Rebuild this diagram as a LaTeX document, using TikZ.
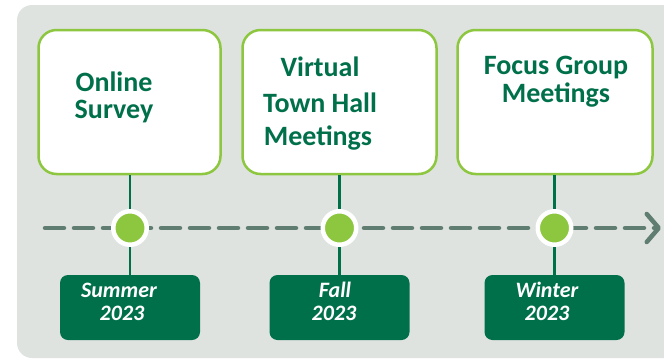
\documentclass[tikz,border=0pt]{standalone}
\usepackage{fontspec}
\setmainfont{Carlito}
\usetikzlibrary{arrows.meta}
\definecolor{bggray}{RGB}{222,227,224}
\definecolor{dkgreen}{RGB}{0,112,74}
\definecolor{ltgreen}{RGB}{141,198,63}
\definecolor{dashgray}{RGB}{95,125,112}
\tikzset{
  topbox/.style={draw=ltgreen, line width=2.5pt, fill=white, rounded corners=18pt,
    minimum height=144pt, inner sep=0pt},
  datebox/.style={fill=dkgreen, rounded corners=8pt, minimum width=140pt,
    minimum height=65pt, inner sep=0pt},
  toptext/.style={anchor=base, text=dkgreen, inner sep=0pt,
    font=\fontsize{28}{30}\selectfont\bfseries},
  datetext/.style={anchor=base, text=white, inner sep=0pt,
    font=\fontsize{22}{24}\selectfont\bfseries\itshape},
  dot/.style={circle, fill=ltgreen, draw=white, line width=4.5pt,
    minimum size=33.5pt, inner sep=0pt},
  stem/.style={draw=dkgreen, line width=2.2pt},
  dashline/.style={draw=dashgray, line width=4.5pt, line cap=round,
    dash pattern=on 19pt off 10pt},
}
\begin{document}
\begin{tikzpicture}[x=1pt,y=-1pt]
\useasboundingbox (0,0) rectangle (664,359);
\clip (0,0) rectangle (664,359);
\fill[bggray, rounded corners=15pt] (17,5) rectangle (720,358);

% timeline
\coordinate (ls) at (45,228);
\coordinate (le) at (661,228);
\draw[dashline, -{Straight Barb[length=12pt,width=28pt,line cap=round,line join=round]}] (ls) -- (le);

% boxes
\node[topbox, minimum width=182pt] (b1) at (129.5,102) {};
\node[topbox, minimum width=194pt] (b2) at (339.5,102) {};
\node[topbox, minimum width=195pt] (b3) at (555,102) {};

\node[datebox] (d1) at (130,307.5) {};
\node[datebox] (d2) at (339.5,307.5) {};
\node[datebox] (d3) at (554.5,307.5) {};

\node[dot] (c1) at (130,228) {};
\node[dot] (c2) at (339.5,228) {};
\node[dot] (c3) at (554.5,228) {};

\draw[stem] (b1.south -| c1) -- (c1);
\draw[stem] (c1) -- (d1.north);
\draw[stem] (b2.south) -- (c2);
\draw[stem] (c2) -- (d2.north);
\draw[stem] (b3.south -| c3) -- (c3);
\draw[stem] (c3) -- (d3.north);

% top texts
\node[toptext] (t1a) at (114,91) {Online};
\node[toptext] (t1b) at (114,118) {Survey};
\node[toptext] (t2a) at (320,76) {Virtual};
\node[toptext] (t2b) at (320,112) {Town Hall};
\node[toptext] (t2c) at (318,145) {Meetings};
\node[toptext] (t3a) at (556,74) {Focus Group};
\node[toptext] (t3b) at (556,102) {Meetings};

% date texts
\node[datetext] (s1a) at (119,297) {Summer};
\node[datetext] (s1b) at (122,320) {2023};
\node[datetext] (s2a) at (335,297) {Fall};
\node[datetext] (s2b) at (334,320) {2023};
\node[datetext] (s3a) at (547,297) {Winter};
\node[datetext] (s3b) at (547,320) {2023};
\end{tikzpicture}
\end{document}
